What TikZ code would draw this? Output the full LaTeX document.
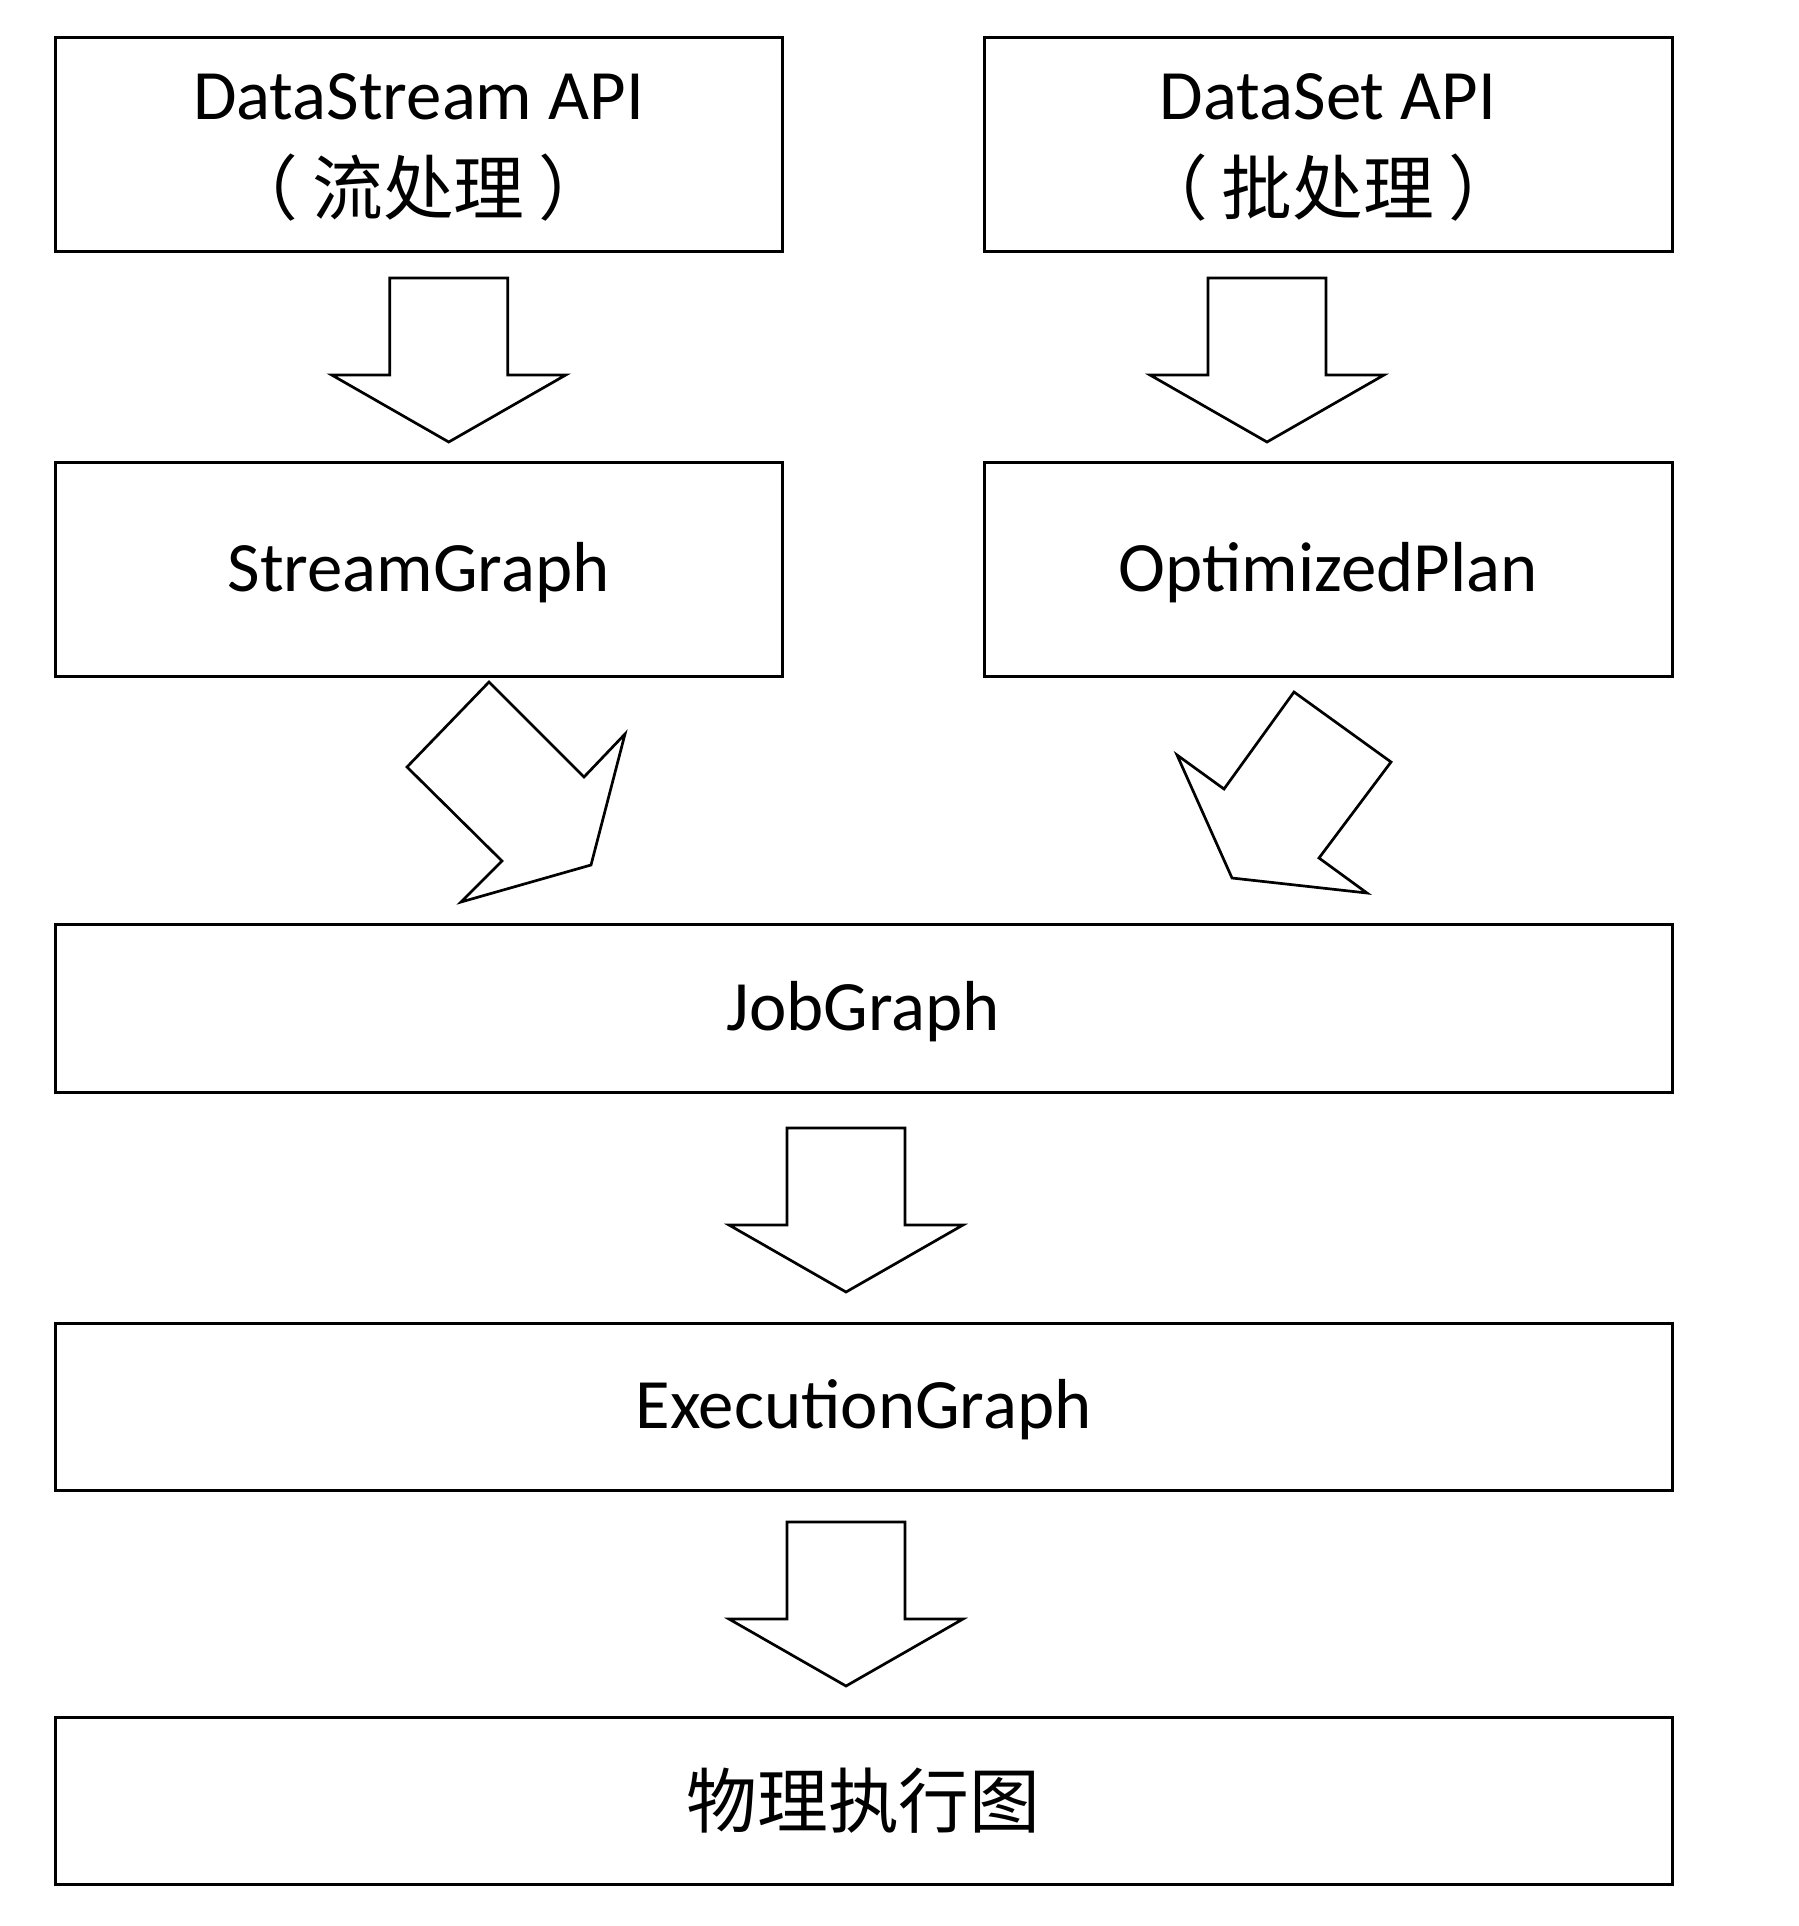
\documentclass[tikz,border=0pt]{standalone}
\usepackage{fontspec}
\setmainfont{Carlito}
\newfontfamily\cjk{Noto Sans CJK SC}
\begin{document}
\begin{tikzpicture}[x=0.5pt,y=-0.5pt,
  box/.style={draw, line width=1.5pt, rectangle, inner sep=0pt, align=center,
    font=\fontsize{35.4}{47.5}\selectfont},
  lat/.style={text height=22pt, text depth=0pt},
  han/.style={text height=26.5pt, text depth=0pt},
  barrow/.style={draw, line width=1.35pt, fill=white, line join=miter},
  pics/downarr/.style={code={
    \draw[barrow] (-59,0) -- (59,0) -- (59,97) -- (117,97) -- (0,164)
      -- (-117,97) -- (-59,97) -- cycle;}}]
\fill[white] (0,0) rectangle (1798,1926);
\useasboundingbox (0,0) rectangle (1798,1926);

% boxes
\node[box, minimum width=363.5pt, minimum height=107pt] (b1) at (418.5,145)
  {\smash{DataStream API}\rule{0pt}{22.5pt}\\\smash{\cjk （\kern7pt 流处理\kern7pt ）}};
\node[box, minimum width=344pt, minimum height=107pt] (b2) at (1328,145)
  {\smash{DataSet API}\rule{0pt}{22.5pt}\\\smash{\cjk （\kern7pt 批处理\kern7pt ）}};
\node[box, lat, minimum width=363.5pt, minimum height=107pt] (b3) at (418.5,569) {StreamGraph};
\node[box, lat, minimum width=344pt, minimum height=107pt] (b4) at (1328,569) {OptimizedPlan};
\node[box, lat, minimum width=808.5pt, minimum height=84pt] (b5) at (863.5,1008) {JobGraph};
\node[box, lat, minimum width=808.5pt, minimum height=83.5pt] (b6) at (863.5,1406.5) {ExecutionGraph};
\node[box, han, minimum width=808.5pt, minimum height=83.5pt] (b7) at (863.5,1800.5) {\cjk 物理执行图};

% block arrows
\pic at (448.75,278) {downarr};
\pic at (1267,278) {downarr};
\pic at (846,1128) {downarr};
\pic at (846,1522) {downarr};

\draw[barrow] (489,682) -- (584,777) -- (625,734) -- (591,865) -- (461,902)
  -- (502,861) -- (407,767) -- cycle;
\draw[barrow] (1294,692) -- (1391,762) -- (1319,858) -- (1367,893) -- (1232,878)
  -- (1177,755) -- (1224,789) -- cycle;
\end{tikzpicture}
\end{document}
